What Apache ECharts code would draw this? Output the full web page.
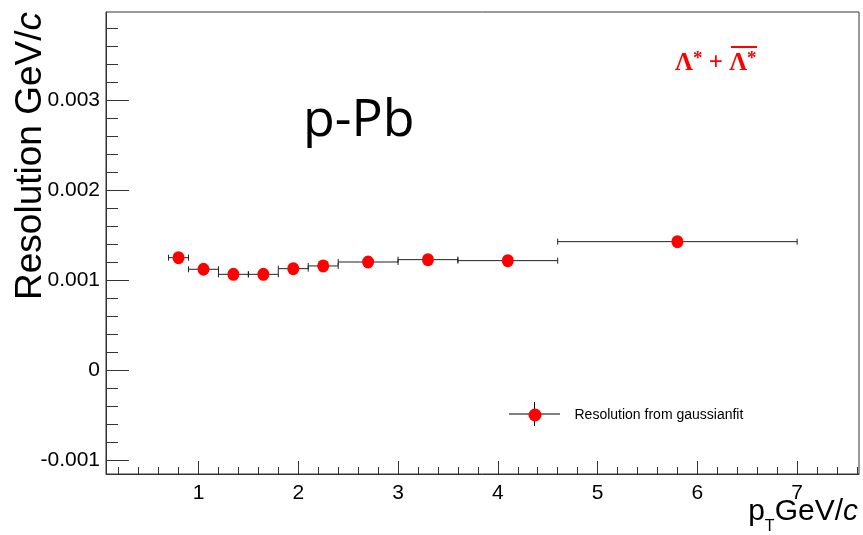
<!DOCTYPE html>
<html>
<head>
<meta charset="utf-8">
<script src="https://cdn.jsdelivr.net/npm/echarts@6/dist/echarts.min.js"></script>
<style>
html,body{margin:0;padding:0;background:#fff;}
#chart{width:863px;height:535px;}
</style>
</head>
<body>
<div id="chart"></div>
<script>
// ---- data ----
var binLow     = [0.7, 0.9, 1.2, 1.5, 1.8, 2.1, 2.4, 3.0, 3.6, 4.6];
var binHigh    = [0.9, 1.2, 1.5, 1.8, 2.1, 2.4, 3.0, 3.6, 4.6, 7.0];
var ptCenter   = [0.8, 1.05, 1.35, 1.65, 1.95, 2.25, 2.7, 3.3, 4.1, 5.8];
var resolution = [0.001248, 0.001119, 0.001063, 0.001063, 0.001126, 0.001156, 0.001200, 0.001226, 0.001215, 0.001426];
var xTickLabels = [1, 2, 3, 4, 5, 6, 7];
var yTickLabels = [-0.001, 0, 0.001, 0.002, 0.003];
var seriesName = 'Resolution from gaussianfit';

var X_MIN = 0.073, X_MAX = 7.62, Y_MIN = -0.001156, Y_MAX = 0.003978;

var xMinor = [];
for (var i = 1; i <= 38; i++) { if (i % 5 !== 0) xMinor.push(+(i * 0.2).toFixed(2)); }
var yMinor = [];
for (var j = -5; j <= 19; j++) { if (j % 5 !== 0) yMinor.push(+(j * 0.0002).toFixed(5)); }

var pointData = ptCenter.map(function (x, k) { return [x, resolution[k]]; });
var barData = binLow.map(function (lo, k) { return [lo, binHigh[k], resolution[k]]; });

var FONT = 'Liberation Sans';
var AX = '#333';

var chart = echarts.init(document.getElementById('chart'), null, {renderer: 'canvas'});
var option = {
  animation: false,
  backgroundColor: '#fff',
  grid: {left: 106, top: 12, right: 4, bottom: 61, show: true, borderColor: AX, borderWidth: 1, backgroundColor: 'transparent'},
  xAxis: [{
    type: 'value', min: X_MIN, max: X_MAX, position: 'bottom',
    axisLine: {show: true, onZero: false, lineStyle: {color: AX, width: 1}},
    axisTick: {show: true, inside: true, length: 13, customValues: xTickLabels, lineStyle: {color: AX}},
    axisLabel: {show: true, customValues: xTickLabels, fontFamily: FONT, fontSize: 21, color: '#000', margin: 9},
    splitLine: {show: false}
  }, {
    type: 'value', min: X_MIN, max: X_MAX, position: 'bottom', offset: 0,
    axisLine: {show: false, onZero: false},
    axisTick: {show: true, inside: true, length: 7, customValues: xMinor, lineStyle: {color: AX}},
    axisLabel: {show: false},
    splitLine: {show: false}
  }],
  yAxis: [{
    type: 'value', min: Y_MIN, max: Y_MAX, position: 'left',
    axisLine: {show: true, onZero: false, lineStyle: {color: AX, width: 1}},
    axisTick: {show: true, inside: true, length: 23, customValues: yTickLabels, lineStyle: {color: AX}},
    axisLabel: {show: true, customValues: yTickLabels, fontFamily: FONT, fontSize: 21, color: '#000', margin: 6,
      formatter: function (v) { return String(Math.round(v * 1000) / 1000); }},
    splitLine: {show: false}
  }, {
    type: 'value', min: Y_MIN, max: Y_MAX, position: 'left', offset: 0,
    axisLine: {show: false, onZero: false},
    axisTick: {show: true, inside: true, length: 12, customValues: yMinor, lineStyle: {color: AX}},
    axisLabel: {show: false},
    splitLine: {show: false}
  }],
  legend: {
    data: [{name: seriesName, icon: 'circle'}],
    left: 523.5, top: 403, itemWidth: 13, itemHeight: 13, itemGap: 0,
    textStyle: {fontFamily: FONT, fontSize: 14, color: '#000', padding: [0, 0, 0, 28]},
    selectedMode: false
  },
  series: [{
    type: 'custom', name: 'bins', xAxisIndex: 0, yAxisIndex: 0,
    data: barData,
    encode: {x: [0, 1], y: 2},
    renderItem: function (params, api) {
      var y = api.value(2);
      var a = api.coord([api.value(0), y]);
      var b = api.coord([api.value(1), y]);
      var st = {stroke: '#222', lineWidth: 1};
      return {type: 'group', children: [
        {type: 'line', shape: {x1: a[0], y1: a[1], x2: b[0], y2: b[1]}, style: st},
        {type: 'line', shape: {x1: a[0], y1: a[1] - 3, x2: a[0], y2: a[1] + 3}, style: st},
        {type: 'line', shape: {x1: b[0], y1: b[1] - 3, x2: b[0], y2: b[1] + 3}, style: st}
      ]};
    },
    z: 2
  }, {
    type: 'scatter', name: seriesName, xAxisIndex: 0, yAxisIndex: 0,
    data: pointData, symbol: 'circle', symbolSize: [12, 13],
    itemStyle: {color: '#ff0000', opacity: 1}, z: 3
  }],
  graphic: [
    {type: 'line', z: 1, shape: {x1: 509, y1: 414, x2: 560, y2: 414}, style: {stroke: '#000', lineWidth: 1}},
    {type: 'line', z: 1, shape: {x1: 534.5, y1: 402, x2: 534.5, y2: 426}, style: {stroke: '#000', lineWidth: 1}},
    {type: 'text', z: 10, rotation: Math.PI / 2, x: 12, y: 12,
      style: {text: '{n|Resolution GeV/}{i|c}', fill: '#000', align: 'right', verticalAlign: 'top',
        rich: {n: {fontFamily: FONT, fontSize: 37, fill: '#000'}, i: {fontFamily: FONT, fontSize: 37, fontStyle: 'italic', fill: '#000'}}}},
    {type: 'text', z: 10, x: 858, y: 527,
      style: {text: '{n|p}{s|T}{n|GeV/}{i|c}', align: 'right', verticalAlign: 'bottom',
        rich: {n: {fontFamily: FONT, fontSize: 30, fill: '#000', verticalAlign: 'bottom', lineHeight: 30},
               s: {fontFamily: FONT, fontSize: 16, fill: '#000', verticalAlign: 'bottom', lineHeight: 14, padding: [0, 0, -8, 0]},
               i: {fontFamily: FONT, fontSize: 30, fontStyle: 'italic', fill: '#000', verticalAlign: 'bottom', lineHeight: 30}}}},
    {type: 'text', z: 10, x: 303, y: 95,
      style: {text: 'p-Pb', fontFamily: 'Open Sans', fontSize: 52, fill: '#000', align: 'left', verticalAlign: 'top'}},
    {type: 'text', z: 10, x: 675, y: 50,
      style: {text: '{a|Λ}{s|*}{a| + }{a|Λ}{s|*}', align: 'left', verticalAlign: 'top',
        rich: {a: {fontFamily: 'Liberation Serif', fontSize: 25, fontWeight: 'bold', fill: '#ff0000', verticalAlign: 'bottom', lineHeight: 26},
               s: {fontFamily: 'Liberation Serif', fontSize: 19, fontWeight: 'bold', fill: '#ff0000', verticalAlign: 'top', lineHeight: 26}}}},
    {type: 'line', z: 10, shape: {x1: 731, y1: 47, x2: 757, y2: 47}, style: {stroke: '#ff0000', lineWidth: 2}}
  ]
};
chart.setOption(option);
</script>
</body>
</html>
